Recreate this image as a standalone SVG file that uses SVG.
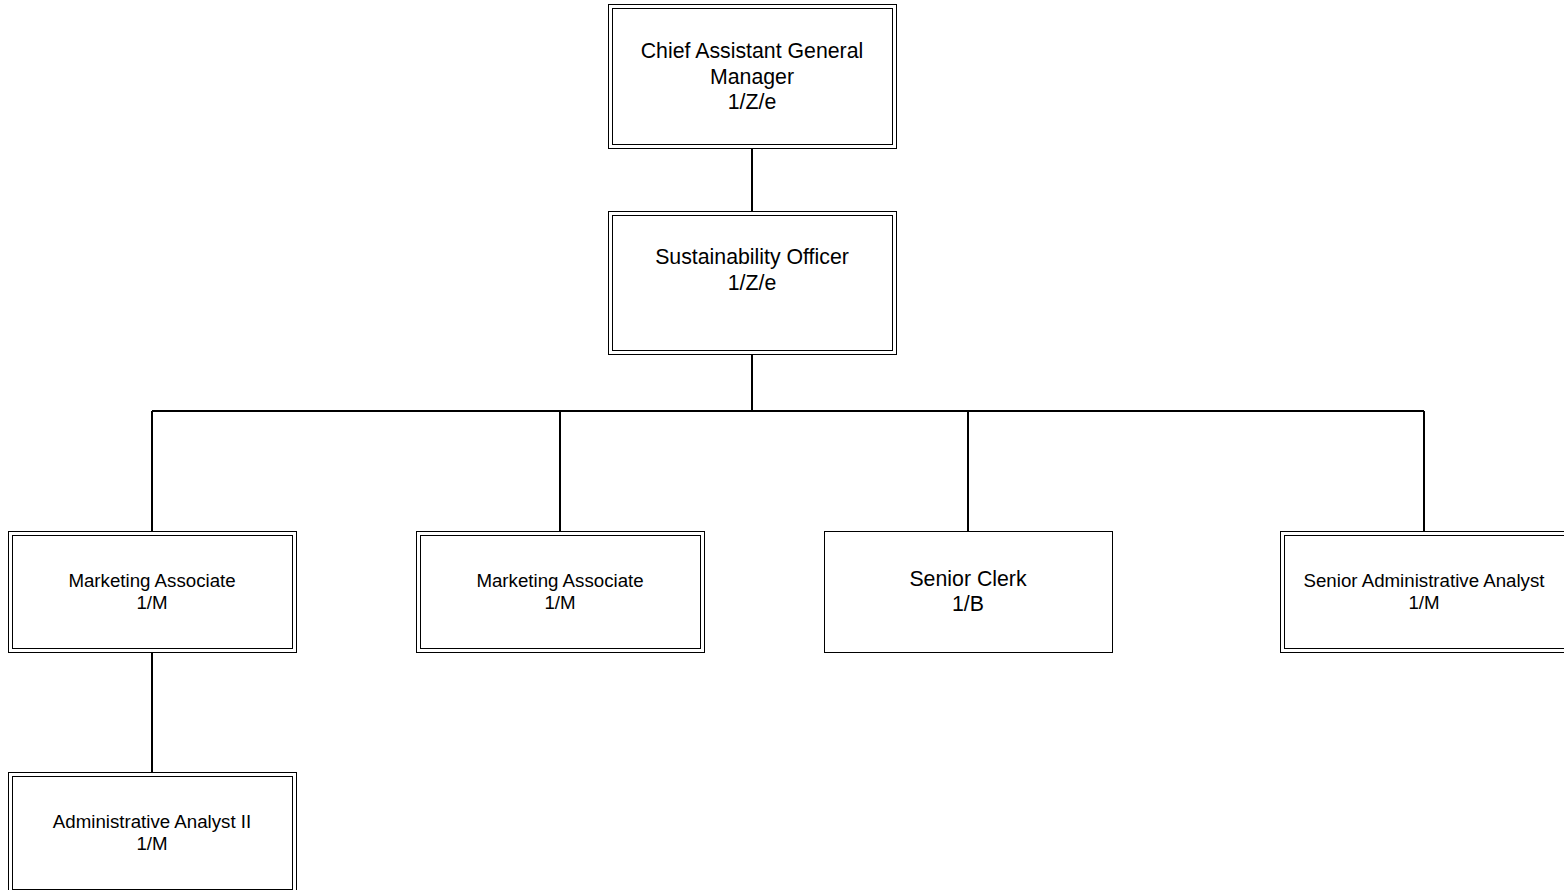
<svg xmlns="http://www.w3.org/2000/svg" width="1564" height="890" viewBox="0 0 1564 890">
<style>
.o{fill:#fff;stroke:#000;stroke-width:1}
.i{fill:none;stroke:#000;stroke-width:1}
.t{font-family:"Liberation Sans",Arial,sans-serif;fill:#000;text-anchor:middle}
.l{font-size:21.3px}
.s{font-size:18.7px}
.c{fill:none;stroke:#000;stroke-width:2}
</style>
<rect width="1564" height="890" fill="#fff"/>
<g id="connectors">
<path class="c" d="M752 148V211M752 354V411M152 411H1424M152 411V531M560 411V531M968 411V531M1424 411V531M152 652V772"/>
</g>
<g id="n1">
<rect class="o" x="608.5" y="4.5" width="288" height="144"/>
<rect class="i" x="612.5" y="8.5" width="280" height="136"/>
<text class="t l" x="752" y="58">Chief Assistant General</text>
<text class="t l" x="752" y="84">Manager</text>
<text class="t l" x="752" y="109">1/Z/e</text>
</g>
<g id="n2">
<rect class="o" x="608.5" y="211.5" width="288" height="143"/>
<rect class="i" x="612.5" y="215.5" width="280" height="135"/>
<text class="t l" x="752" y="264">Sustainability Officer</text>
<text class="t l" x="752" y="290">1/Z/e</text>
</g>
<g id="n3">
<rect class="o" x="8.5" y="531.5" width="288" height="121"/>
<rect class="i" x="12.5" y="535.5" width="280" height="113"/>
<text class="t s" x="152" y="587">Marketing Associate</text>
<text class="t s" x="152" y="609">1/M</text>
</g>
<g id="n4">
<rect class="o" x="416.5" y="531.5" width="288" height="121"/>
<rect class="i" x="420.5" y="535.5" width="280" height="113"/>
<text class="t s" x="560" y="587">Marketing Associate</text>
<text class="t s" x="560" y="609">1/M</text>
</g>
<g id="n5">
<rect class="o" x="824.5" y="531.5" width="288" height="121"/>
<text class="t l" x="968" y="586">Senior Clerk</text>
<text class="t l" x="968" y="611">1/B</text>
</g>
<g id="n6">
<rect class="o" x="1280.5" y="531.5" width="288" height="121"/>
<rect class="i" x="1284.5" y="535.5" width="280" height="113"/>
<text class="t s" x="1424" y="587">Senior Administrative Analyst</text>
<text class="t s" x="1424" y="609">1/M</text>
</g>
<g id="n7">
<rect class="o" x="8.5" y="772.5" width="288" height="121"/>
<rect class="i" x="12.5" y="776.5" width="280" height="113"/>
<text class="t s" x="152" y="828">Administrative Analyst II</text>
<text class="t s" x="152" y="850">1/M</text>
</g>
</svg>
